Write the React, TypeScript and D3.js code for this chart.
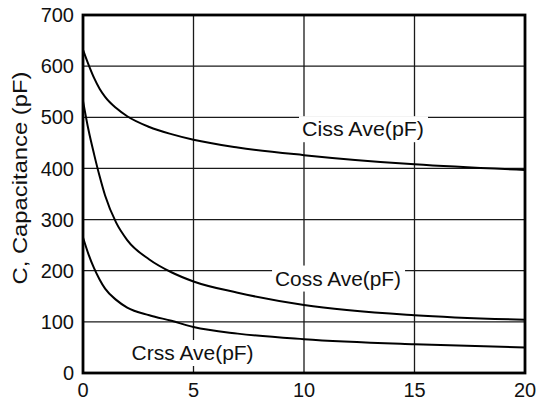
import React from "react";
import * as d3 from "d3";

// Values (Vds in V, capacitance in pF)
const cissX = [0, 0.25, 0.5, 0.75, 1, 1.5, 2, 3, 4, 5, 7, 10, 15, 20];
const cissY = [632, 603, 577, 556, 540, 518, 502, 481, 467, 456, 441, 426, 408, 397];

const cossX = [0, 0.25, 0.5, 0.75, 1, 1.5, 2, 3, 4, 5, 7, 10, 15, 20];
const cossY = [532, 475, 428, 385, 347, 294, 260, 222, 197, 179, 157, 133, 113, 104];

const crssX = [0, 0.25, 0.5, 0.75, 1, 1.5, 2, 3, 4, 5, 7, 10, 15, 20];
const crssY = [265, 232, 205, 183, 165, 143, 128, 113, 102, 90, 77, 66, 56, 50];

const xTicks = [0, 5, 10, 15, 20];
const yTicks = [0, 100, 200, 300, 400, 500, 600, 700];

const seriesLabels = ["Ciss Ave(pF)", "Coss Ave(pF)", "Crss Ave(pF)"];
// label anchor positions in data units (x, y)
const labelPos: [number, number][] = [
  [9.91, 463],
  [8.69, 171],
  [2.2, 25.4],
];

const W = 536;
const H = 403;
const margin = { top: 15, right: 11, bottom: 30, left: 83 };
const font = "'Liberation Sans', Arial, sans-serif";

export default function App() {
  const x = d3
    .scaleLinear()
    .domain([0, 20])
    .range([margin.left, W - margin.right]);
  const y = d3
    .scaleLinear()
    .domain([0, 700])
    .range([H - margin.bottom, margin.top]);

  const line = d3
    .line<[number, number]>()
    .x((d) => x(d[0]))
    .y((d) => y(d[1]))
    .curve(d3.curveMonotoneX);

  const series = [
    d3.zip(cissX, cissY) as [number, number][],
    d3.zip(cossX, cossY) as [number, number][],
    d3.zip(crssX, crssY) as [number, number][],
  ];

  return (
    <div style={{ position: "absolute", left: 0, top: 0 }}>
      <svg width={W} height={H} style={{ display: "block", background: "#fff" }}>
        {/* grid */}
        {xTicks.slice(1, -1).map((t) => (
          <line key={"gx" + t} x1={x(t)} x2={x(t)} y1={y(0)} y2={y(700)} stroke="#1a1a1a" strokeWidth={1.3} />
        ))}
        {yTicks.slice(1, -1).map((t) => (
          <line key={"gy" + t} x1={x(0)} x2={x(20)} y1={y(t)} y2={y(t)} stroke="#1a1a1a" strokeWidth={1.3} />
        ))}

        {/* curves */}
        {series.map((s, i) => (
          <path key={i} d={line(s) || ""} fill="none" stroke="#000" strokeWidth={2} />
        ))}

        {/* series labels with white boxes */}
        {seriesLabels.map((t, i) => {
          const lx = x(labelPos[i][0]);
          const ly = y(labelPos[i][1]);
          const len = i === 1 ? 126 : 122;
          return (
            <g key={t}>
              <rect x={lx - 3} y={ly - 20} width={len + 7} height={26} fill="#fff" />
              <text
                x={lx}
                y={ly}
                fontFamily={font}
                fontSize={20}
                fill="#111"
                textLength={len}
                lengthAdjust="spacingAndGlyphs"
              >
                {t}
              </text>
            </g>
          );
        })}

        {/* frame */}
        <rect
          x={x(0)}
          y={y(700)}
          width={x(20) - x(0)}
          height={y(0) - y(700)}
          fill="none"
          stroke="#000"
          strokeWidth={2.8}
        />

        {/* y tick labels */}
        {yTicks.map((t) => (
          <text
            key={"yl" + t}
            x={74}
            y={y(t)}
            dy="0.36em"
            textAnchor="end"
            fontFamily={font}
            fontSize={20}
            fill="#111"
          >
            {t}
          </text>
        ))}

        {/* x tick labels */}
        {xTicks.map((t) => (
          <text
            key={"xl" + t}
            x={x(t)}
            y={397}
            textAnchor="middle"
            fontFamily={font}
            fontSize={20}
            fill="#111"
          >
            {t}
          </text>
        ))}

        {/* y axis title */}
        <text
          transform={`translate(27,178) rotate(-90)`}
          textAnchor="middle"
          fontFamily={font}
          fontSize={21}
          fill="#111"
          textLength={213}
          lengthAdjust="spacingAndGlyphs"
        >
          C, Capacitance (pF)
        </text>
      </svg>
    </div>
  );
}
